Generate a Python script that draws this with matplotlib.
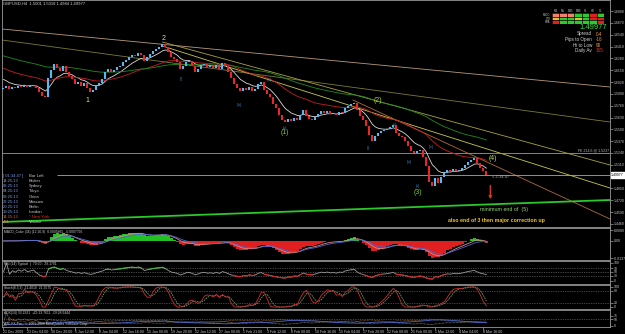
import numpy as np
import pandas as pd
import matplotlib
matplotlib.use("Agg")
import matplotlib.pyplot as plt

plt.rcParams['font.family'] = ['Liberation Sans', 'DejaVu Sans']

W, H = 625, 334

# GBPUSD closes (one candle per 8 hours)
closes = [1.5955, 1.5977, 1.5944, 1.5966, 1.5955, 1.5977, 1.5966, 1.5988, 1.5966, 1.5977,
          1.5988, 1.5955, 1.5911, 1.5867, 1.5856, 1.6065, 1.6153, 1.6219, 1.6175, 1.6142,
          1.6197, 1.6131, 1.6087, 1.6054, 1.5999, 1.6021, 1.5977, 1.6010, 1.5955, 1.5911,
          1.5933, 1.5977, 1.6010, 1.6054, 1.6131, 1.6164, 1.6131, 1.6153, 1.6186, 1.6197,
          1.6241, 1.6263, 1.6296, 1.6318, 1.6307, 1.6340, 1.6318, 1.6252, 1.6296, 1.6329,
          1.6362, 1.6384, 1.6406, 1.6439, 1.6406, 1.6351, 1.6296, 1.6274, 1.6241, 1.6164,
          1.6197, 1.6241, 1.6252, 1.6197, 1.6131, 1.6164, 1.6208, 1.6219, 1.6186, 1.6197,
          1.6175, 1.6208, 1.6164, 1.6230, 1.6197, 1.6131, 1.6065, 1.5999, 1.5955, 1.5922,
          1.5955, 1.5933, 1.5966, 1.5922, 1.5944, 1.5999, 1.6021, 1.5933, 1.5889, 1.5856,
          1.5779, 1.5735, 1.5658, 1.5603, 1.5581, 1.5614, 1.5592, 1.5625, 1.5603, 1.5658,
          1.5713, 1.5647, 1.5614, 1.5603, 1.5636, 1.5669, 1.5702, 1.5680, 1.5702, 1.5669,
          1.5680, 1.5658, 1.5691, 1.5680, 1.5735, 1.5757, 1.5779, 1.5790, 1.5713, 1.5647,
          1.5603, 1.5537, 1.5438, 1.5372, 1.5427, 1.5460, 1.5482, 1.5493, 1.5504, 1.5526,
          1.5548, 1.5460, 1.5427, 1.5416, 1.5372, 1.5317, 1.5262, 1.5240, 1.5262, 1.5273,
          1.5196, 1.5097, 1.4921, 1.4877, 1.4965, 1.4910, 1.4976, 1.5020, 1.5053, 1.5031,
          1.5064, 1.5042, 1.5053, 1.5075, 1.5108, 1.5141, 1.5163, 1.5185, 1.5130, 1.5075,
          1.5042, 1.4998]
first_open = 1.5944
last_price = 1.49977
fib_price = 1.5240

time_labels = ["21 Dec 2009", "23 Dec 04:00", "30 Dec 20:00", "5 Jan 12:00", "8 Jan 04:00",
               "12 Jan 16:00", "15 Jan 08:00", "19 Jan 20:00", "22 Jan 12:00", "27 Jan 08:00",
               "1 Feb 21:00", "3 Feb 12:00", "8 Feb 00:00", "10 Feb 16:00", "15 Feb 04:00",
               "17 Feb 20:00", "22 Feb 08:00", "25 Feb 00:00", "1 Mar 12:00", "4 Mar 04:00",
               "8 Mar 16:00"]
price_ticks = [1.6800, 1.6670, 1.6540, 1.6410, 1.6280, 1.6150, 1.6020, 1.5890, 1.5760,
               1.5630, 1.5500, 1.5370, 1.5240, 1.5110, 1.4850, 1.4720, 1.4590, 1.4460]

# moving averages: period, starting value
ma_periods = [8, 30, 70]
ma_seeds = [1.6076, 1.6186, 1.6318]
ma_colors = ["#d8d8d8", "#c81e1e", "#1e8c1e"]

# trend lines: (bar0, price0, bar1, price1)
trend_lines = [(-0.5, 1.6604, 202.2, 1.5966),
               (-0.5, 1.6483, 202.2, 1.5581),
               (53.0, 1.6461, 202.2, 1.5108),
               (53.0, 1.6417, 202.2, 1.4855),
               (116.5, 1.5823, 202.2, 1.4514),
               (-0.5, 1.4481, 202.2, 1.4723)]
trend_colors = ["#b89a7a", "#7c7a34", "#a8a23c", "#c8c84a", "#b06a3a", "#2ac82a"]
trend_widths = [0.6, 0.6, 0.6, 0.6, 0.6, 1.3]

wave_labels = [("1", 28.0, 1.5812, "#e8d890"), ("2", 53.3, 1.6494, "#e8d890"),
               ("(1)", 93.7, 1.5460, "#78c83a"), ("(2)", 124.7, 1.5823, "#a8c83a"),
               ("(3)", 138.3, 1.4811, "#78c83a"), ("(4)", 163.0, 1.5174, "#b8d860")]
sub_labels = [("(i)", 59.3, 1.6054), ("(iii)", 78.7, 1.5768), ("(iv)", 88.7, 1.6043),
              ("(v)", 93.7, 1.5515), ("(i)", 121.7, 1.5295), ("(ii)", 130.3, 1.5548),
              ("(iii)", 135.3, 1.5141), ("(v)", 138.0, 1.4877), ("(iv)", 142.7, 1.5306)]

sessions = [("[ 01:34:47 ]", "Bar Left"), ("14:25:13", "Broker"), ("06:25:13", "Sydney"),
            ("04:25:13", "Tokyo"), ("03:25:13", "China"), ("22:25:13", "Moscow"),
            ("20:25:13", "Berlin"), ("19:25:13", "London"), ("14:25:13", "* New York"),
            ("431", "Volume")]

tf_names = ["M1", "M5", "M15", "M30", "H1", "H4", "D1"]
sig_rows = ["MACD", "STR", "EMA"]
sig_cells = [["#f08070", "#f08070", "#f08070", "#30c830", "#30c830", "#e02020", "#30c830"],
             ["#e0c030", "#30c830", "#30c830", "#e0c030", "#30c830", "#e02020", "#e02020"],
             ["#e02020", "#30c830", "#30c830", "#30c830", "#30c830", "#30c830", "#e02020"]]
info_rows = [("Spread", "0.4", "#e89a3a"), ("Pips to Open", "-16", "#e89a3a"),
             ("Hi to Low", "90", "#e8a040"), ("Daily Av", "165", "#e83030")]

# ---------------------------------------------------------------
c = pd.Series(closes)
idx = np.arange(len(closes))
opens = np.array([first_open] + closes[:-1])
cl = np.array(closes)


def ema(s, n):
    return s.ewm(span=n, adjust=False).mean()


def ema_seeded(vals, n, seed):
    a = 2.0 / (n + 1)
    e = seed
    out = []
    for v in vals:
        e = e + a * (v - e)
        out.append(e)
    return out


macd = ema(c, 6) - ema(c, 13)
sig1 = ema(macd, 5)
sig2 = ema(macd, 9)

d = c.diff().fillna(0)
up = d.clip(lower=0).ewm(alpha=1 / 10, adjust=False).mean()
dn = (-d).clip(lower=0).ewm(alpha=1 / 10, adjust=False).mean()
rsi = (100 * up / (up + dn)).fillna(50)

lo = c.rolling(8, min_periods=1).min()
hi = c.rolling(8, min_periods=1).max()
raw = (100 * (c - lo) / (hi - lo).replace(0, np.nan)).fillna(50)
stk = raw.rolling(3, min_periods=1).mean()
std = stk.rolling(3, min_periods=1).mean()

rng = c.rolling(3, min_periods=1).max() - c.rolling(3, min_periods=1).min()
sm = lambda s: s.ewm(alpha=1 / 12, adjust=False).mean()
pdi = (100 * sm(d.clip(lower=0)) / sm(rng).replace(0, np.nan)).fillna(20)
mdi = (100 * sm((-d).clip(lower=0)) / sm(rng).replace(0, np.nan)).fillna(20)
dx = (100 * (pdi - mdi).abs() / (pdi + mdi)).fillna(0)
adx = sm(dx)

fig = plt.figure(figsize=(W / 100, H / 100), dpi=100)
fig.patch.set_facecolor("black")


def px_axes(x0, y0, x1, y1):
    a = fig.add_axes([x0 / W, 1 - y1 / H, (x1 - x0) / W, (y1 - y0) / H])
    a.set_facecolor("black")
    for s in a.spines.values():
        s.set_color("#9a9a9a")
        s.set_linewidth(0.6)
    a.yaxis.tick_right()
    a.tick_params(axis="y", colors="#c8c8c8", labelsize=2.5, length=2, width=0.4, pad=0.8)
    a.set_xlim(-0.5, 202.2)
    a.set_xticks([])
    return a


# main price window
ax = px_axes(2, 0, 610, 227)
ax.set_ylim(1.4426, 1.6923)
ax.set_yticks(price_ticks)
ax.set_yticklabels([f"{p:.4f}" for p in price_ticks])

for (x0, p0, x1, p1), col, lw in zip(trend_lines, trend_colors, trend_widths):
    ax.plot([x0, x1], [p0, p1], color=col, lw=lw, zorder=1)

ax.axhline(fib_price, color="#9a9a9a", lw=0.6, zorder=1)
ax.text(201.8, fib_price + 0.0006, "FE 214.6 @ 1.5237", color="#b8b8b8", fontsize=2.6,
        ha="right", va="bottom")
ax.hlines(last_price, 18, 202.2, color="#a8a8a8", lw=0.6, zorder=1)

for n, seed, col in zip(ma_periods, ma_seeds, ma_colors):
    ax.plot(idx, ema_seeded(closes, n, seed), color=col, lw=0.6, zorder=2)

cols = np.where(cl >= opens, "#58b8f0", "#e82828")
ax.vlines(idx, np.minimum(opens, cl) - 0.0004, np.maximum(opens, cl) + 0.0004,
          colors=cols, lw=1.5, zorder=3)

for t, x, p, col in wave_labels:
    ax.text(x, p, t, color=col, fontsize=5, ha="center", va="center", zorder=4)
for t, x, p in sub_labels:
    ax.text(x, p, t, color="#3c9ad8", fontsize=2.6, ha="center", va="center", zorder=4)

ax.annotate("", xy=(162.3, 1.4701), xytext=(162.3, 1.4912),
            arrowprops=dict(arrowstyle="-|>", color="#e03020", lw=1.0, mutation_scale=4))
ax.text(162.8, 1.4976, "<--1:34:47", color="#b0b0b0", fontsize=2.8, ha="left", va="center")
ax.text(166.7, 1.4613, "minimum end of  (5)", color="#90d870", fontsize=3.8,
        ha="center", va="center")
ax.text(164.3, 1.4503, "also end of 3 then major correction up", color="#f0c828",
        fontsize=3.8, fontweight="bold", ha="center", va="center")
ax.text(1.002, last_price, "1.49977", transform=ax.get_yaxis_transform(), color="black",
        fontsize=2.5, ha="left", va="center",
        bbox=dict(boxstyle="square,pad=0.2", fc="white", ec="white"))

# MACD window
am = px_axes(2, 228, 610, 260)
s = max(float(macd.max()) / 11.0, float(-macd.min()) / 17.0)
am.set_ylim(-19 * s, 13 * s)
am.bar(idx, macd, width=0.85, color=np.where(macd >= 0, "#22c022", "#e02020"))
am.plot(idx, sig1, color="#d88888", lw=0.6)
am.plot(idx, sig2, color="#4a68d0", lw=0.6)
am.set_yticks([11 * s, 0, -17 * s])
am.set_yticklabels([f"{11 * s:.4f}", "0.00", f"{-17 * s:.4f}"])
am.text(0.003, 0.95, "MACD_Color (34) (12,26,9)  0.0005865  -0.0007796", transform=am.transAxes,
        color="#c8c8c8", fontsize=2.4, ha="left", va="top")

# RSI window
ar = px_axes(2, 261, 610, 284)
ar.set_ylim(-16.7, 111)
for lv in (70, 50, 30):
    ar.axhline(lv, color="#808080", lw=0.5, ls=(0, (1, 1.5)))
ar.plot(idx, rsi, color="#9a9a9a", lw=0.6)
ar.plot(idx, rsi.where(rsi >= 62), color="#30c830", lw=0.7)
ar.plot(idx, rsi.where(rsi <= 38), color="#e02020", lw=0.7)
ar.set_yticks([100, 70, 50, 30, 0])
ar.text(0.003, 0.95, "RSI (14) Typical  |  70.00 : 29.1701", transform=ar.transAxes,
        color="#c8c8c8", fontsize=2.4, ha="left", va="top")

# Stochastic window
ast = px_axes(2, 285, 610, 309)
ast.set_ylim(-10, 110)
for lv in (80, 20):
    ast.axhline(lv, color="#808080", lw=0.5, ls=(0, (1, 1.5)))
ast.plot(idx, std, color="#6a9a6a", lw=0.6, ls=(0, (2, 1)))
ast.plot(idx, stk, color="#c83030", lw=0.6)
ast.set_yticks([100, 80, 20, 0])
ast.text(0.003, 0.95, "Stoch(8,3,3)  21.4010  21.3575", transform=ast.transAxes,
        color="#c8c8c8", fontsize=2.4, ha="left", va="top")

# ADX window
aa = px_axes(2, 310, 610, 327)
aa.set_ylim(-11, 119)
aa.axhline(50, color="#808080", lw=0.5, ls=(0, (1, 1.5)))
aa.plot(idx, pdi, color="#a0a0a0", lw=0.5, ls=(0, (1, 1)))
aa.plot(idx, mdi, color="#b07040", lw=0.5, ls=(0, (1, 1)))
aa.plot(idx, adx, color="#4a6ad0", lw=0.6)
aa.set_yticks([75, 50, 0])
aa.text(0.003, 0.95, "ADX(14) 33.2921  +DI:13.7611  -DI:28.9444", transform=aa.transAxes,
        color="#c8c8c8", fontsize=2.4, ha="left", va="top")
aa.text(0.003, 0.05, "ATC FX Pro-, \u00a9 2001-2009 MetaQuotes Software Corp.",
        transform=aa.transAxes, color="#d8d8d8", fontsize=2.4, ha="left", va="bottom")
aa.set_xticks(np.arange(0, 8 * len(time_labels), 8))
aa.set_xticklabels(time_labels)
aa.tick_params(axis="x", colors="#c8c8c8", labelsize=2.6, length=2.2, width=0.4, pad=0.3)
for lab in aa.get_xticklabels():
    lab.set_ha("left")

# overlays: title, signal table, info block, session clocks
fig.text(3 / W, 1 - 4 / H, "GBPUSD,H4  1.5001 1.5018 1.4984 1.49977", color="#d0d0d0",
         fontsize=3.0, ha="left", va="center")

tb = fig.add_axes([552 / W, 1 - 24 / H, 52 / W, 11 / H])
tb.imshow([[matplotlib.colors.to_rgb(cc) for cc in row] for row in sig_cells],
          aspect="auto", interpolation="nearest")
tb.set_xticks(np.arange(len(tf_names)) - 0.5, minor=True)
tb.set_yticks(np.arange(len(sig_rows)) - 0.5, minor=True)
tb.grid(which="minor", color="black", lw=0.5)
tb.tick_params(which="both", length=0, labelbottom=False, labelleft=False)
tb.set_xticks([])
tb.set_yticks([])
for sp in tb.spines.values():
    sp.set_visible(False)
for j, t in enumerate(tf_names):
    fig.text((552 + (j + 0.5) * 52 / 7) / W, 1 - 10.5 / H, t, color="#c0c0c0", fontsize=2.0,
             ha="center", va="center")
for k, t in enumerate(sig_rows):
    fig.text(550.5 / W, 1 - (14.8 + 3.7 * k) / H, t, color="#c0c0c0", fontsize=1.8,
             ha="right", va="center")

fig.text(607 / W, 1 - 27.5 / H, "1.49977", color="#3ee03e", fontsize=5.4, ha="right",
         va="center")
for k, (lab, val, vc) in enumerate(info_rows):
    y = 1 - (34 + 5.6 * k) / H
    fig.text(592 / W, y, lab, color="#d0d0d0", fontsize=3.3, ha="right", va="center")
    fig.text(596 / W, y, val, color=vc, fontsize=3.3, ha="left", va="center")

for k, (tm, name) in enumerate(sessions):
    y = 1 - (176 + 5.15 * k) / H
    tcol, ncol = "#7a9ae0", "#c8c8c8"
    if name == "* New York":
        tcol, ncol = "#e06030", "#e02a1a"
    if name == "Volume":
        tcol = "#e08a30"
    fig.text(3 / W, y, tm, color=tcol, fontsize=3.0, ha="left", va="center")
    fig.text(29 / W, y, name, color=ncol, fontsize=3.0, ha="left", va="center")

fig.savefig("out.png", dpi=100, facecolor="black")
